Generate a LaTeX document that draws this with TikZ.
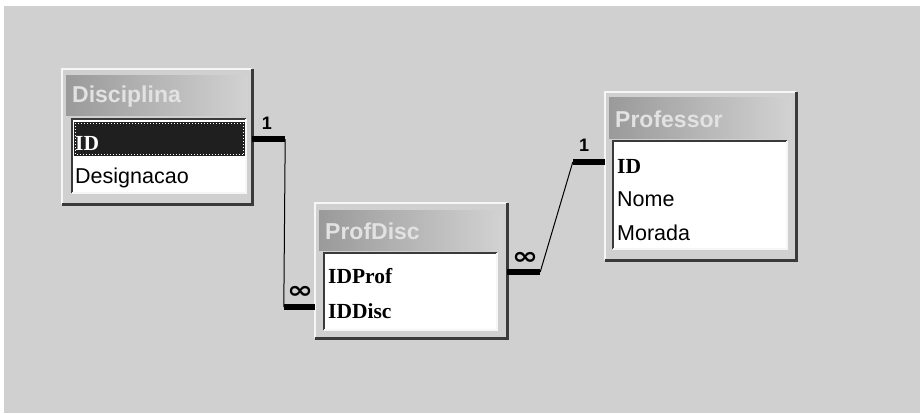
\documentclass[tikz,border=0pt]{standalone}
\usepackage{fontspec}
\setmainfont{Liberation Sans}
\newfontfamily\keyfont{Liberation Serif}
\newfontfamily\symfont{DejaVu Sans}
\usetikzlibrary{fit,calc}
\definecolor{bg}{HTML}{D0D0D0}
\definecolor{dark}{HTML}{3A3A3A}
\definecolor{lite}{HTML}{F6F6F6}
\definecolor{tleft}{HTML}{9A9A9A}
\definecolor{tright}{HTML}{D2D2D2}
\definecolor{ttext}{HTML}{E2E2E2}
\tikzset{
  frame/.style={fill=bg, inner sep=0pt, draw=none},
  titlebar/.style={left color=tleft, right color=tright, inner sep=0pt, draw=none},
  fieldbox/.style={fill=white, inner sep=0pt, draw=none},
  darkedge/.style={draw=dark, line width=3pt},
  liteedge/.style={draw=lite, line width=2pt},
  titletext/.style={anchor=west, inner sep=0pt, text=ttext, font=\fontsize{23}{26}\selectfont\bfseries},
  fieldtext/.style={anchor=west, inner sep=0pt, text height=14pt, text depth=4pt, font=\fontsize{21.5}{24}\selectfont},
  keytext/.style={fieldtext, font=\fontsize{21.5}{24}\selectfont\keyfont\bfseries},
  thickbar/.style={draw=black, line width=5.5pt},
  thinline/.style={draw=black, line width=1pt},
  multone/.style={inner sep=0pt, font=\fontsize{18}{20}\selectfont\bfseries},
  multinf/.style={inner sep=0pt, font=\fontsize{24}{28}\selectfont\symfont\bfseries},
}
\begin{document}
\begin{tikzpicture}[x=1pt,y=-1pt]
\useasboundingbox (0,0) rectangle (923,413);
\fill[white] (0,0) rectangle (923,413);
\fill[bg] (4,6) rectangle (920,413);

% ---------- Disciplina ----------
\node[frame, fit={(62,69) (252,204)}] (disc) {};
\draw[liteedge] (disc.south west) -- (disc.north west) -- (disc.north east);
\draw[darkedge] (disc.north east) -- (disc.south east) -- (disc.south west);
\node[titlebar, fit={(66,75) (248,115)}] (discT) {};
\node[titletext] (discTt) at (72,97) {Disciplina};
\node[fieldbox, fit={(72,119) (246,193)}] (discF) {};
\draw[dark, line width=2pt] (discF.south west) -- (discF.north west) -- (discF.north east);
\draw[lite, line width=1.5pt] (discF.north east) -- (discF.south east) -- (discF.south west);
\node[fill=black!88, inner sep=0pt, fit={(74,122) (245,156)}] (discSel) {};
\draw[white, dotted, line width=1pt] ([shift={(1.5pt,-1.5pt)}]discSel.north west) rectangle ([shift={(-1.5pt,1.5pt)}]discSel.south east);
\node[keytext, text=white] (discID) at (75,145) {ID};
\node[fieldtext] (discDes) at (75,178) {Designacao};

% ---------- ProfDisc ----------
\node[frame, fit={(315,203) (507,338)}] (pd) {};
\draw[liteedge] (pd.south west) -- (pd.north west) -- (pd.north east);
\draw[darkedge] (pd.north east) -- (pd.south east) -- (pd.south west);
\node[titlebar, fit={(319,210) (503,250)}] (pdT) {};
\node[titletext] (pdTt) at (325,231) {ProfDisc};
\node[fieldbox, fit={(324,253) (497,330)}] (pdF) {};
\draw[dark, line width=2pt] (pdF.south west) -- (pdF.north west) -- (pdF.north east);
\draw[lite, line width=1.5pt] (pdF.north east) -- (pdF.south east) -- (pdF.south west);
\node[keytext] (pdProf) at (328,278.5) {IDProf};
\node[keytext] (pdDisc) at (328,313) {IDDisc};

% ---------- Professor ----------
\node[frame, fit={(605,92) (796,260)}] (prof) {};
\draw[liteedge] (prof.south west) -- (prof.north west) -- (prof.north east);
\draw[darkedge] (prof.north east) -- (prof.south east) -- (prof.south west);
\node[titlebar, fit={(609,97) (792,138)}] (profT) {};
\node[titletext] (profTt) at (615,119) {Professor};
\node[fieldbox, fit={(613,141) (787,249)}] (profF) {};
\draw[dark, line width=2pt] (profF.south west) -- (profF.north west) -- (profF.north east);
\draw[lite, line width=1.5pt] (profF.north east) -- (profF.south east) -- (profF.south west);
\node[keytext] (profID) at (617,168.5) {ID};
\node[fieldtext] (profNome) at (617,201) {Nome};
\node[fieldtext] (profMor) at (617,235.5) {Morada};

% ---------- Relationship Disciplina - ProfDisc ----------
\coordinate (a0) at ([yshift=6pt]disc.east |- discID);
\coordinate (a1) at ([xshift=33pt]a0);
\coordinate (b0) at ([yshift=6pt]pd.west |- pdDisc);
\coordinate (b1) at ([xshift=-31pt]b0);
\draw[thinline] (a1) -- (b1);
\draw[thickbar] (a0) -- (a1);
\draw[thickbar] (b1) -- (b0);
\node[multone] (one1) at (267,123) {1};
\node[multinf] (inf1) at (300,292) {\scalebox{1.3}[1]{∞}};

% ---------- Relationship Professor - ProfDisc ----------
\coordinate (c0) at ([yshift=6.5pt]prof.west |- profID);
\coordinate (c1) at ([xshift=-32pt]c0);
\coordinate (d0) at ([yshift=6.5pt]pd.east |- pdProf);
\coordinate (d1) at ([xshift=33pt]d0);
\draw[thinline] (c1) -- (d1);
\draw[thickbar] (c0) -- (c1);
\draw[thickbar] (d1) -- (d0);
\node[multone] (one2) at (584,145) {1};
\node[multinf] (inf2) at (525,258) {\scalebox{1.3}[1]{∞}};
\end{tikzpicture}
\end{document}
